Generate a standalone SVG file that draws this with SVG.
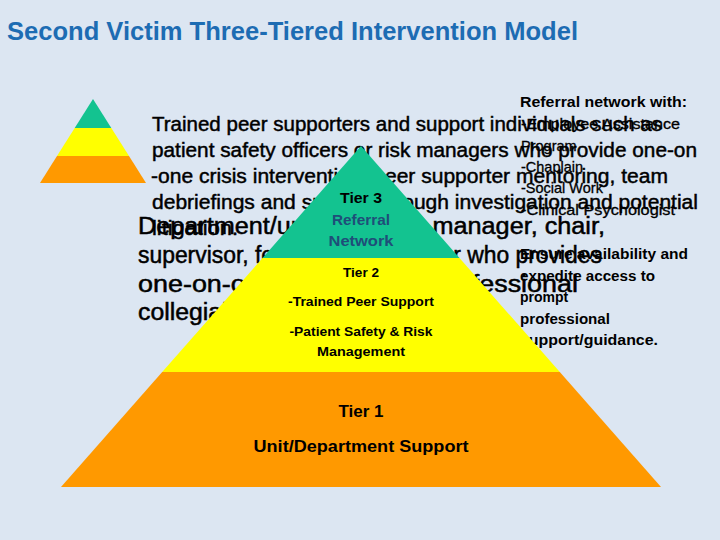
<svg xmlns="http://www.w3.org/2000/svg" width="720" height="540" viewBox="0 0 720 540">
<style>
text{font-family:"Liberation Sans",Arial,sans-serif;}
.title{font-size:25px;font-weight:bold;fill:#1D6CB3;}
.b1{font-size:20px;fill:#000;stroke:#000;stroke-width:0.45px;}
.b2{font-size:23.5px;fill:#000;stroke:#000;stroke-width:0.5px;}
.r{font-size:14.5px;fill:#000;stroke:#000;stroke-width:0.3px;}
.rb{font-size:14px;font-weight:bold;fill:#000;}
.lbl{font-weight:bold;fill:#000;text-anchor:middle;}
.ref{fill:#1F4E79;}
</style>
<rect x="0" y="0" width="720" height="540" fill="#DCE6F2"/>
<g id="title"><text class="title" x="7" y="40" textLength="571" lengthAdjust="spacingAndGlyphs">Second Victim Three-Tiered Intervention Model</text></g>
<g id="icon">
<polygon points="93,99 111.3,128 74.7,128" fill="#13C390"/>
<polygon points="74.7,128 111.3,128 129,156 57,156" fill="#FFFF00"/>
<polygon points="57,156 129,156 146,183 40,183" fill="#FF9900"/>
</g>
<g id="tier2-text">
<text class="b1" x="152" y="131" textLength="510" lengthAdjust="spacingAndGlyphs">Trained peer supporters and support individuals such as</text>
<text class="b1" x="152" y="157" textLength="545" lengthAdjust="spacingAndGlyphs">patient safety officers or risk managers who provide one-on</text>
<text class="b1" x="151" y="183" textLength="517" lengthAdjust="spacingAndGlyphs">-one crisis intervention, peer supporter mentoring, team</text>
<text class="b1" x="152" y="209" textLength="546" lengthAdjust="spacingAndGlyphs">debriefings and support through investigation and potential</text>
<text class="b1" x="152" y="235" textLength="86" lengthAdjust="spacingAndGlyphs">litigation.</text>
</g>
<g id="tier1-text">
<text class="b2" x="138" y="234" textLength="467" lengthAdjust="spacingAndGlyphs">Department/unit, program manager, chair,</text>
<text class="b2" x="138" y="263" textLength="464" lengthAdjust="spacingAndGlyphs">supervisor, fellow team member who provides</text>
<text class="b2" x="138" y="292" textLength="440" lengthAdjust="spacingAndGlyphs">one-on-one support and professional</text>
<text class="b2" x="138" y="320" textLength="186" lengthAdjust="spacingAndGlyphs">collegial support.</text>
</g>
<g id="referral-text">
<text class="rb" x="520" y="107" textLength="167" lengthAdjust="spacingAndGlyphs">Referral network with:</text>
<text class="r" x="521" y="129" textLength="159" lengthAdjust="spacingAndGlyphs">-Employee Assistance</text>
<text class="r" x="521" y="151">Program</text>
<text class="r" x="521" y="172">-Chaplain</text>
<text class="r" x="521" y="193">-Social Work</text>
<text class="r" x="521" y="215" textLength="154" lengthAdjust="spacingAndGlyphs">-Clinical Psychologist</text>
</g>
<g id="ensure-text">
<text class="rb" x="520" y="259" textLength="168" lengthAdjust="spacingAndGlyphs">Ensure availability and</text>
<text class="rb" x="520" y="280.5" textLength="135" lengthAdjust="spacingAndGlyphs">expedite access to</text>
<text class="rb" x="520" y="302">prompt</text>
<text class="rb" x="520" y="323.5" textLength="90" lengthAdjust="spacingAndGlyphs">professional</text>
<text class="rb" x="520" y="345" textLength="138" lengthAdjust="spacingAndGlyphs">support/guidance.</text>
</g>
<g id="tier3">
<polygon points="361,146 459.5,258 262.5,258" fill="#13C390"/>
<text class="lbl" x="361" y="203" font-size="14.5" textLength="42" lengthAdjust="spacingAndGlyphs">Tier 3</text>
<text class="lbl ref" x="361" y="225" font-size="14.5" textLength="58" lengthAdjust="spacingAndGlyphs">Referral</text>
<text class="lbl ref" x="361" y="246" font-size="14.5" textLength="65" lengthAdjust="spacingAndGlyphs">Network</text>
</g>
<g id="tier2">
<polygon points="262.5,258 459.5,258 559.8,372 162.2,372" fill="#FFFF00"/>
<text class="lbl" x="361" y="277" font-size="13" textLength="36" lengthAdjust="spacingAndGlyphs">Tier 2</text>
<text class="lbl" x="361" y="306" font-size="13" textLength="146" lengthAdjust="spacingAndGlyphs">-Trained Peer Support</text>
<text class="lbl" x="361" y="336" font-size="13" textLength="143" lengthAdjust="spacingAndGlyphs">-Patient Safety &amp; Risk</text>
<text class="lbl" x="361" y="356" font-size="13" textLength="88" lengthAdjust="spacingAndGlyphs">Management</text>
</g>
<g id="tier1">
<polygon points="162.2,372 559.8,372 661,487 61,487" fill="#FF9900"/>
<text class="lbl" x="361" y="417" font-size="17" textLength="45" lengthAdjust="spacingAndGlyphs">Tier 1</text>
<text class="lbl" x="361" y="452" font-size="16.5" textLength="215" lengthAdjust="spacingAndGlyphs">Unit/Department Support</text>
</g>
</svg>
